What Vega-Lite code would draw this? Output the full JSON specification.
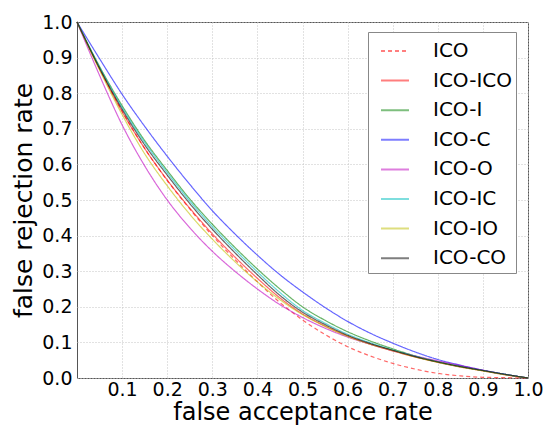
{
  "$schema": "https://vega.github.io/schema/vega-lite/v6.json",
  "width": 451,
  "height": 356,
  "autosize": {"type": "none"},
  "padding": {"left": 77, "top": 22, "right": 20, "bottom": 47},
  "background": "white",
  "config": {
    "view": {"stroke": "#555555", "strokeWidth": 1},
    "font": "DejaVu Sans",
    "axis": {
      "labelFont": "DejaVu Sans",
      "titleFont": "DejaVu Sans",
      "labelFontSize": 19,
      "titleFontSize": 25,
      "titleFontWeight": "normal",
      "labelColor": "#000000",
      "titleColor": "#000000",
      "domain": false,
      "ticks": false,
      "gridColor": "#c4c4c4",
      "gridDash": [1, 2],
      "gridWidth": 1
    },
    "legend": {
      "labelFont": "DejaVu Sans",
      "labelFontSize": 20,
      "labelColor": "#000000"
    }
  },
  "data": {
    "values": [
      {"s": "ICO", "x": 0, "y": 1.0}, {"s": "ICO", "x": 0.05, "y": 0.87}, {"s": "ICO", "x": 0.1, "y": 0.75}, {"s": "ICO", "x": 0.15, "y": 0.645}, {"s": "ICO", "x": 0.2, "y": 0.555}, {"s": "ICO", "x": 0.25, "y": 0.475}, {"s": "ICO", "x": 0.3, "y": 0.4}, {"s": "ICO", "x": 0.35, "y": 0.333}, {"s": "ICO", "x": 0.4, "y": 0.27}, {"s": "ICO", "x": 0.45, "y": 0.212}, {"s": "ICO", "x": 0.5, "y": 0.163}, {"s": "ICO", "x": 0.55, "y": 0.122}, {"s": "ICO", "x": 0.6, "y": 0.088}, {"s": "ICO", "x": 0.65, "y": 0.062}, {"s": "ICO", "x": 0.7, "y": 0.041}, {"s": "ICO", "x": 0.75, "y": 0.025}, {"s": "ICO", "x": 0.8, "y": 0.013}, {"s": "ICO", "x": 0.85, "y": 0.006}, {"s": "ICO", "x": 0.9, "y": 0.002}, {"s": "ICO", "x": 0.95, "y": 0.001}, {"s": "ICO", "x": 1.0, "y": 0},

      {"s": "ICO-ICO", "x": 0, "y": 1.0}, {"s": "ICO-ICO", "x": 0.05, "y": 0.868}, {"s": "ICO-ICO", "x": 0.1, "y": 0.748}, {"s": "ICO-ICO", "x": 0.15, "y": 0.645}, {"s": "ICO-ICO", "x": 0.2, "y": 0.556}, {"s": "ICO-ICO", "x": 0.25, "y": 0.477}, {"s": "ICO-ICO", "x": 0.3, "y": 0.405}, {"s": "ICO-ICO", "x": 0.35, "y": 0.34}, {"s": "ICO-ICO", "x": 0.4, "y": 0.28}, {"s": "ICO-ICO", "x": 0.45, "y": 0.225}, {"s": "ICO-ICO", "x": 0.5, "y": 0.18}, {"s": "ICO-ICO", "x": 0.55, "y": 0.146}, {"s": "ICO-ICO", "x": 0.6, "y": 0.118}, {"s": "ICO-ICO", "x": 0.65, "y": 0.095}, {"s": "ICO-ICO", "x": 0.7, "y": 0.076}, {"s": "ICO-ICO", "x": 0.75, "y": 0.059}, {"s": "ICO-ICO", "x": 0.8, "y": 0.044}, {"s": "ICO-ICO", "x": 0.85, "y": 0.031}, {"s": "ICO-ICO", "x": 0.9, "y": 0.02}, {"s": "ICO-ICO", "x": 0.95, "y": 0.009}, {"s": "ICO-ICO", "x": 1.0, "y": 0},

      {"s": "ICO-I", "x": 0, "y": 1.0}, {"s": "ICO-I", "x": 0.05, "y": 0.875}, {"s": "ICO-I", "x": 0.1, "y": 0.765}, {"s": "ICO-I", "x": 0.15, "y": 0.667}, {"s": "ICO-I", "x": 0.2, "y": 0.583}, {"s": "ICO-I", "x": 0.25, "y": 0.503}, {"s": "ICO-I", "x": 0.3, "y": 0.432}, {"s": "ICO-I", "x": 0.35, "y": 0.367}, {"s": "ICO-I", "x": 0.4, "y": 0.306}, {"s": "ICO-I", "x": 0.45, "y": 0.25}, {"s": "ICO-I", "x": 0.5, "y": 0.2}, {"s": "ICO-I", "x": 0.55, "y": 0.162}, {"s": "ICO-I", "x": 0.6, "y": 0.13}, {"s": "ICO-I", "x": 0.65, "y": 0.104}, {"s": "ICO-I", "x": 0.7, "y": 0.082}, {"s": "ICO-I", "x": 0.75, "y": 0.062}, {"s": "ICO-I", "x": 0.8, "y": 0.046}, {"s": "ICO-I", "x": 0.85, "y": 0.033}, {"s": "ICO-I", "x": 0.9, "y": 0.021}, {"s": "ICO-I", "x": 0.95, "y": 0.01}, {"s": "ICO-I", "x": 1.0, "y": 0},

      {"s": "ICO-C", "x": 0, "y": 1.0}, {"s": "ICO-C", "x": 0.05, "y": 0.897}, {"s": "ICO-C", "x": 0.1, "y": 0.797}, {"s": "ICO-C", "x": 0.15, "y": 0.707}, {"s": "ICO-C", "x": 0.2, "y": 0.623}, {"s": "ICO-C", "x": 0.25, "y": 0.544}, {"s": "ICO-C", "x": 0.3, "y": 0.47}, {"s": "ICO-C", "x": 0.35, "y": 0.405}, {"s": "ICO-C", "x": 0.4, "y": 0.345}, {"s": "ICO-C", "x": 0.45, "y": 0.29}, {"s": "ICO-C", "x": 0.5, "y": 0.242}, {"s": "ICO-C", "x": 0.55, "y": 0.198}, {"s": "ICO-C", "x": 0.6, "y": 0.159}, {"s": "ICO-C", "x": 0.65, "y": 0.126}, {"s": "ICO-C", "x": 0.7, "y": 0.098}, {"s": "ICO-C", "x": 0.75, "y": 0.073}, {"s": "ICO-C", "x": 0.8, "y": 0.052}, {"s": "ICO-C", "x": 0.85, "y": 0.036}, {"s": "ICO-C", "x": 0.9, "y": 0.022}, {"s": "ICO-C", "x": 0.95, "y": 0.01}, {"s": "ICO-C", "x": 1.0, "y": 0},

      {"s": "ICO-O", "x": 0, "y": 1.0}, {"s": "ICO-O", "x": 0.05, "y": 0.85}, {"s": "ICO-O", "x": 0.1, "y": 0.711}, {"s": "ICO-O", "x": 0.15, "y": 0.596}, {"s": "ICO-O", "x": 0.2, "y": 0.5}, {"s": "ICO-O", "x": 0.25, "y": 0.422}, {"s": "ICO-O", "x": 0.3, "y": 0.356}, {"s": "ICO-O", "x": 0.35, "y": 0.3}, {"s": "ICO-O", "x": 0.4, "y": 0.25}, {"s": "ICO-O", "x": 0.45, "y": 0.206}, {"s": "ICO-O", "x": 0.5, "y": 0.17}, {"s": "ICO-O", "x": 0.55, "y": 0.14}, {"s": "ICO-O", "x": 0.6, "y": 0.115}, {"s": "ICO-O", "x": 0.65, "y": 0.095}, {"s": "ICO-O", "x": 0.7, "y": 0.077}, {"s": "ICO-O", "x": 0.75, "y": 0.062}, {"s": "ICO-O", "x": 0.8, "y": 0.048}, {"s": "ICO-O", "x": 0.85, "y": 0.035}, {"s": "ICO-O", "x": 0.9, "y": 0.022}, {"s": "ICO-O", "x": 0.95, "y": 0.01}, {"s": "ICO-O", "x": 1.0, "y": 0},

      {"s": "ICO-IC", "x": 0, "y": 1.0}, {"s": "ICO-IC", "x": 0.05, "y": 0.873}, {"s": "ICO-IC", "x": 0.1, "y": 0.76}, {"s": "ICO-IC", "x": 0.15, "y": 0.662}, {"s": "ICO-IC", "x": 0.2, "y": 0.577}, {"s": "ICO-IC", "x": 0.25, "y": 0.497}, {"s": "ICO-IC", "x": 0.3, "y": 0.425}, {"s": "ICO-IC", "x": 0.35, "y": 0.36}, {"s": "ICO-IC", "x": 0.4, "y": 0.298}, {"s": "ICO-IC", "x": 0.45, "y": 0.24}, {"s": "ICO-IC", "x": 0.5, "y": 0.19}, {"s": "ICO-IC", "x": 0.55, "y": 0.154}, {"s": "ICO-IC", "x": 0.6, "y": 0.123}, {"s": "ICO-IC", "x": 0.65, "y": 0.099}, {"s": "ICO-IC", "x": 0.7, "y": 0.079}, {"s": "ICO-IC", "x": 0.75, "y": 0.061}, {"s": "ICO-IC", "x": 0.8, "y": 0.045}, {"s": "ICO-IC", "x": 0.85, "y": 0.032}, {"s": "ICO-IC", "x": 0.9, "y": 0.021}, {"s": "ICO-IC", "x": 0.95, "y": 0.01}, {"s": "ICO-IC", "x": 1.0, "y": 0},

      {"s": "ICO-IO", "x": 0, "y": 1.0}, {"s": "ICO-IO", "x": 0.05, "y": 0.865}, {"s": "ICO-IO", "x": 0.1, "y": 0.74}, {"s": "ICO-IO", "x": 0.15, "y": 0.63}, {"s": "ICO-IO", "x": 0.2, "y": 0.54}, {"s": "ICO-IO", "x": 0.25, "y": 0.46}, {"s": "ICO-IO", "x": 0.3, "y": 0.39}, {"s": "ICO-IO", "x": 0.35, "y": 0.327}, {"s": "ICO-IO", "x": 0.4, "y": 0.27}, {"s": "ICO-IO", "x": 0.45, "y": 0.22}, {"s": "ICO-IO", "x": 0.5, "y": 0.178}, {"s": "ICO-IO", "x": 0.55, "y": 0.145}, {"s": "ICO-IO", "x": 0.6, "y": 0.117}, {"s": "ICO-IO", "x": 0.65, "y": 0.095}, {"s": "ICO-IO", "x": 0.7, "y": 0.077}, {"s": "ICO-IO", "x": 0.75, "y": 0.059}, {"s": "ICO-IO", "x": 0.8, "y": 0.044}, {"s": "ICO-IO", "x": 0.85, "y": 0.031}, {"s": "ICO-IO", "x": 0.9, "y": 0.02}, {"s": "ICO-IO", "x": 0.95, "y": 0.009}, {"s": "ICO-IO", "x": 1.0, "y": 0},

      {"s": "ICO-CO", "x": 0, "y": 1.0}, {"s": "ICO-CO", "x": 0.05, "y": 0.87}, {"s": "ICO-CO", "x": 0.1, "y": 0.755}, {"s": "ICO-CO", "x": 0.15, "y": 0.655}, {"s": "ICO-CO", "x": 0.2, "y": 0.57}, {"s": "ICO-CO", "x": 0.25, "y": 0.49}, {"s": "ICO-CO", "x": 0.3, "y": 0.418}, {"s": "ICO-CO", "x": 0.35, "y": 0.352}, {"s": "ICO-CO", "x": 0.4, "y": 0.29}, {"s": "ICO-CO", "x": 0.45, "y": 0.232}, {"s": "ICO-CO", "x": 0.5, "y": 0.185}, {"s": "ICO-CO", "x": 0.55, "y": 0.15}, {"s": "ICO-CO", "x": 0.6, "y": 0.12}, {"s": "ICO-CO", "x": 0.65, "y": 0.097}, {"s": "ICO-CO", "x": 0.7, "y": 0.078}, {"s": "ICO-CO", "x": 0.75, "y": 0.06}, {"s": "ICO-CO", "x": 0.8, "y": 0.045}, {"s": "ICO-CO", "x": 0.85, "y": 0.032}, {"s": "ICO-CO", "x": 0.9, "y": 0.021}, {"s": "ICO-CO", "x": 0.95, "y": 0.01}, {"s": "ICO-CO", "x": 1.0, "y": 0}
    ]
  },
  "mark": {"type": "line", "strokeWidth": 1.2, "opacity": 0.6, "interpolate": "monotone"},
  "encoding": {
    "x": {
      "field": "x", "type": "quantitative",
      "scale": {"domain": [0, 1], "nice": false},
      "axis": {"title": "false acceptance rate", "values": [0.1, 0.2, 0.3, 0.4, 0.5, 0.6, 0.7, 0.8, 0.9, 1.0], "format": ".1f", "labelPadding": 2, "titlePadding": 1, "titleFontSize": 24, "labelFlush": false}
    },
    "y": {
      "field": "y", "type": "quantitative",
      "scale": {"domain": [0, 1], "nice": false},
      "axis": {"title": "false rejection rate", "values": [0, 0.1, 0.2, 0.3, 0.4, 0.5, 0.6, 0.7, 0.8, 0.9, 1.0], "format": ".1f", "labelPadding": 5, "titlePadding": 5, "labelFlush": false}
    },
    "color": {
      "field": "s", "type": "nominal",
      "scale": {
        "domain": ["ICO", "ICO-ICO", "ICO-I", "ICO-C", "ICO-O", "ICO-IC", "ICO-IO", "ICO-CO"],
        "range": ["#ff0000", "#ff0000", "#008000", "#0000ff", "#bf00bf", "#00bfbf", "#bfbf00", "#000000"]
      },
      "legend": {
        "title": null, "orient": "none", "legendX": 291, "legendY": 10,
        "symbolType": "stroke", "symbolSize": 784, "symbolStrokeWidth": 2, "symbolOpacity": 0.5,
        "labelOffset": 23, "symbolOffset": 8, "padding": 4, "rowPadding": 4.6,
        "strokeColor": "#888888", "fillColor": "#ffffff", "labelFontSize": 20
      }
    },
    "strokeDash": {
      "field": "s", "type": "nominal",
      "scale": {
        "domain": ["ICO", "ICO-ICO", "ICO-I", "ICO-C", "ICO-O", "ICO-IC", "ICO-IO", "ICO-CO"],
        "range": [[4, 3], [1, 0], [1, 0], [1, 0], [1, 0], [1, 0], [1, 0], [1, 0]]
      },
      "legend": {
        "title": null, "orient": "none", "legendX": 291, "legendY": 10,
        "symbolType": "stroke", "symbolSize": 784, "symbolStrokeWidth": 2, "symbolOpacity": 0.5,
        "labelOffset": 23, "symbolOffset": 8, "padding": 4, "rowPadding": 4.6,
        "strokeColor": "#888888", "fillColor": "#ffffff", "labelFontSize": 20
      }
    },
    "order": {"field": "x", "type": "quantitative"}
  }
}
